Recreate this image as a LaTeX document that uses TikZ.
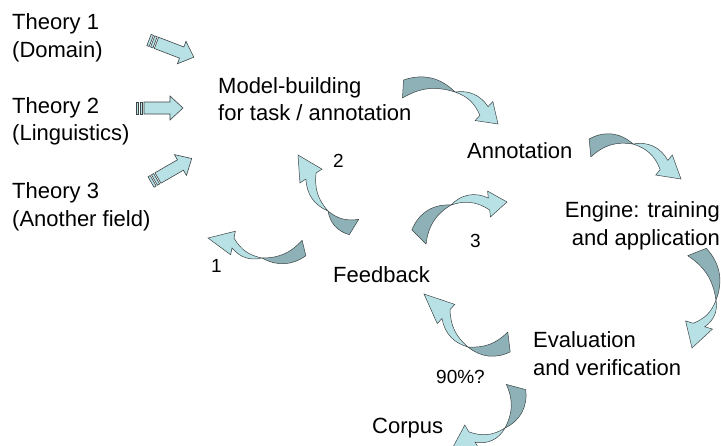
\documentclass[tikz,border=0pt]{standalone}
\usepackage{fontspec}
\setmainfont{Liberation Sans}
\usetikzlibrary{calc}
\definecolor{litefill}{HTML}{B8E1E5}
\definecolor{darkfill}{HTML}{8DB1B6}
\definecolor{edgecol}{HTML}{3C4446}
\tikzset{
  lbl/.style={anchor=base west, inner sep=0pt, font=\fontsize{22}{26}\selectfont},
  lblr/.style={anchor=base east, inner sep=0pt, font=\fontsize{22}{26}\selectfont},
  num/.style={anchor=base west, inner sep=0pt, font=\fontsize{19}{22}\selectfont},
  darkpart/.style={fill=darkfill, draw=edgecol, line width=0.5pt, line join=round},
  litepart/.style={fill=litefill, draw=edgecol, line width=0.5pt, line join=miter},
  stripe/.style={fill=litefill, draw=edgecol, line width=0.6pt}
}
% twisted curved block arrow: tail T, twist M, head base D, tip C,
% tail half-width, shaft half-width, head half-width, outer bend, inner bend
\newcommand{\twarrow}[9]{%
  \coordinate (T) at (#1);
  \coordinate (M) at (#2);
  \coordinate (D) at (#3);
  \coordinate (C) at (#4);
  \coordinate (T1) at ($(T)!#5!90:(M)$);
  \coordinate (T2) at ($(T)!#5!-90:(M)$);
  \coordinate (D1) at ($(D)!#6!90:(C)$);
  \coordinate (D2) at ($(D)!#6!-90:(C)$);
  \coordinate (H1) at ($(D)!#7!90:(C)$);
  \coordinate (H2) at ($(D)!#7!-90:(C)$);
  \filldraw[darkpart] (T1) to[bend left=#8] (M) to[bend right=#9] (T2) -- cycle;
  \filldraw[litepart] (M) to[bend left=#8] (D1) -- (H1) -- (C) -- (H2) -- (D2) to[bend right=#9] (M) -- cycle;
}
% straight striped arrow: tail point, angle, length
\newcommand{\strarrow}[3]{%
  \begin{scope}[shift={(#1)}, rotate=#2]
    \filldraw[stripe] (0,-6) rectangle (2.5,6);
    \filldraw[stripe] (4,-6) rectangle (6.5,6);
    \filldraw[stripe] (8,-6) -- ({#3-13},-6) -- ({#3-13},-12) -- (#3,0) -- ({#3-13},12) -- ({#3-13},6) -- (8,6) -- cycle;
  \end{scope}
}
\begin{document}
\begin{tikzpicture}[x=1pt, y=-1pt]
\useasboundingbox (0,0) rectangle (721,445);

% texts
\node[lbl] (th1a) at (12,29) {Theory 1};
\node[lbl] (th1b) at (12,57) {(Domain)};
\node[lbl] (th2a) at (12,113) {Theory 2};
\node[lbl] (th2b) at (12,140) {(Linguistics)};
\node[lbl] (th3a) at (12,198) {Theory 3};
\node[lbl] (th3b) at (12,226) {(Another field)};
\node[lbl] (mb1) at (218,93) {Model-building};
\node[lbl] (mb2) at (218,120) {for task / annotation};
\node[lbl] (ann) at (467,158) {Annotation};
\node[lblr] (eng1) at (720,217) {Engine: training};
\node[lblr] (eng2) at (720,245) {and application};
\node[lbl] (fb) at (333,282) {Feedback};
\node[lbl] (ev1) at (533,347) {Evaluation};
\node[lbl] (ev2) at (533,375) {and verification};
\node[lbl] (corp) at (372,433) {Corpus};
\node[num] (n1) at (211,272) {1};
\node[num] (n2) at (333,167) {2};
\node[num] (n3) at (470,247) {3};
\node[num] (n90) at (436,383) {90\%?};

% straight theory arrows
\strarrow{149,40}{-21}{48}
\strarrow{136,108}{0}{47}
\strarrow{151,182}{30}{47}

% curved twisted arrows
\twarrow{403,89}{455,92}{484,111}{498,124}{9pt}{6pt}{13pt}{32}{24}
\twarrow{590,148}{633,144}{664,165}{681,179}{9pt}{6pt}{13pt}{36}{26}
\twarrow{697,252}{716,300}{699,325}{692,348}{10pt}{6pt}{14pt}{32}{24}
\twarrow{516,387}{505,428}{472,437}{452,449}{10pt}{6pt}{14pt}{36}{26}
\twarrow{509,342}{468,347}{446,314}{424,294}{10pt}{6pt}{13pt}{32}{24}
\twarrow{354,227}{328,211}{311,176}{298,155}{9pt}{6pt}{13pt}{32}{24}
\twarrow{304,248}{262,258}{233,243}{208,238}{8pt}{5pt}{12pt}{32}{24}
\twarrow{419,237}{451,205}{489,204}{507,202}{10pt}{6pt}{13pt}{36}{26}
\end{tikzpicture}
\end{document}
